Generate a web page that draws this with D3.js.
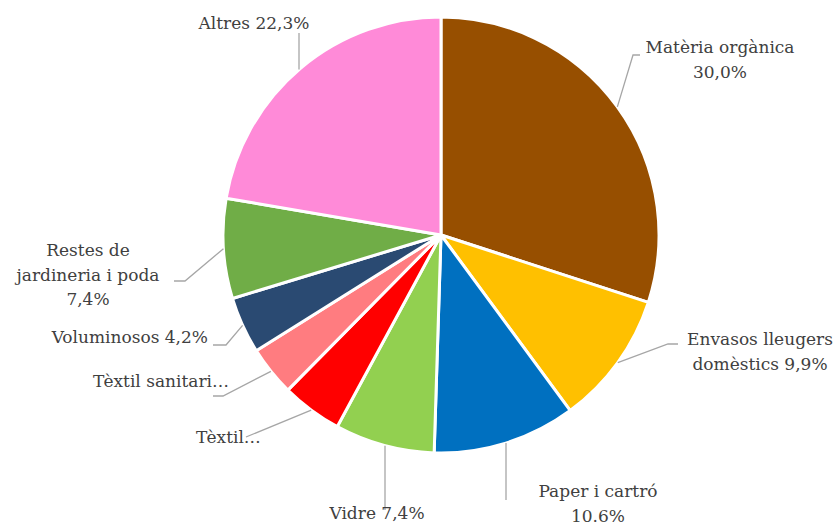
<!DOCTYPE html>
<html>
<head>
<meta charset="utf-8">
<script src="https://cdn.jsdelivr.net/npm/d3@7"></script>
<style>
  body { margin: 0; background: #fff; }
  text { font-family: Rockwell, "DejaVu Serif", serif; fill: #404040; font-size: 17px; }
</style>
</head>
<body>
<div id="chart"></div>
<script>
const width = 838;
const height = 524;

// data
const categories = ["Matèria orgànica", "Envasos lleugers domèstics", "Paper i cartró", "Vidre",
	"Tèxtil", "Tèxtil sanitari", "Voluminosos", "Restes de jardineria i poda", "Altres"];
const values = [30.0, 9.9, 10.6, 7.4, 4.5, 3.7, 4.2, 7.4, 22.3];
const labels = [
	["Matèria orgànica", "30,0%"],
	["Envasos lleugers", "domèstics 9,9%"],
	["Paper i cartró", "10.6%"],
	["Vidre 7,4%"],
	["Tèxtil…"],
	["Tèxtil sanitari…"],
	["Voluminosos 4,2%"],
	["Restes de", "jardineria i poda", "7,4%"],
	["Altres 22,3%"]
];
const colors = ["#974F00", "#FFC000", "#0070C0", "#92D050", "#FF0000", "#FF7C80", "#2A4A72", "#70AD47", "#FF8AD8"];

// label placement: text anchor point, leader elbow, leader end, anchor
const layout = [
	{ x: 720, y: 53, anchor: "middle", elbow: [633, 55], end: [640, 55] },
	{ x: 760, y: 345, anchor: "middle", elbow: [668, 344], end: [678, 344] },
	{ x: 598, y: 497, anchor: "middle", elbow: null, end: [506, 500] },
	{ x: 377, y: 519, anchor: "middle", elbow: null, end: [385, 510] },
	{ x: 196, y: 443, anchor: "start", elbow: null, end: [246, 437] },
	{ x: 229, y: 387, anchor: "end", elbow: [223, 396], end: [213, 396] },
	{ x: 208, y: 343, anchor: "end", elbow: [226, 345], end: [213, 345] },
	{ x: 88, y: 256, anchor: "middle", elbow: [185, 281], end: [174, 281] },
	{ x: 254, y: 29, anchor: "middle", elbow: null, end: [299, 33] }
];

const cx = 441, cy = 235, r = 218;

const svg = d3.select("#chart")
	.append("svg")
	.attr("width", width)
	.attr("height", height);

const pie = d3.pie().sort(null).value((d) => d);
const arcs = pie(values);
const arc = d3.arc().innerRadius(0).outerRadius(r);

const g = svg.append("g").attr("transform", `translate(${cx}, ${cy})`);

g.selectAll("path")
	.data(arcs)
	.enter()
	.append("path")
	.attr("d", arc)
	.attr("fill", (d, i) => colors[i])
	.attr("stroke", "#fff")
	.attr("stroke-width", 3)
	.attr("stroke-linejoin", "round");

// leader lines: start on the arc edge at the slice's mid angle
function edgePoint(d, i) {
	const a = (d.startAngle + d.endAngle) / 2;
	const L = layout[i];
	// for vertical leaders start where the vertical meets the circle
	if (!L.elbow && (i === 2 || i === 3 || i === 8)) {
		const dx = L.end[0] - cx;
		const dy = Math.sqrt(r * r - dx * dx);
		return [L.end[0], cy + (i === 8 ? -dy : dy)];
	}
	return [cx + Math.sin(a) * r, cy - Math.cos(a) * r];
}

svg.selectAll("polyline.leader")
	.data(arcs)
	.enter()
	.append("polyline")
	.attr("class", "leader")
	.attr("points", (d, i) => {
		const L = layout[i];
		const pts = [edgePoint(d, i)];
		if (L.elbow) pts.push(L.elbow);
		pts.push(L.end);
		return pts.map((p) => p.join(",")).join(" ");
	})
	.attr("fill", "none")
	.attr("stroke", "#A6A6A6")
	.attr("stroke-width", 1.3);

const lab = svg.selectAll("text.lab")
	.data(arcs)
	.enter()
	.append("text")
	.attr("class", "lab")
	.attr("text-anchor", (d, i) => layout[i].anchor)
	.attr("x", (d, i) => layout[i].x)
	.attr("y", (d, i) => layout[i].y);

lab.each(function (d, i) {
	const t = d3.select(this);
	labels[i].forEach((line, k) => {
		t.append("tspan")
			.attr("x", layout[i].x)
			.attr("dy", k === 0 ? 0 : 24.5)
			.text(line);
	});
});
</script>
</body>
</html>
